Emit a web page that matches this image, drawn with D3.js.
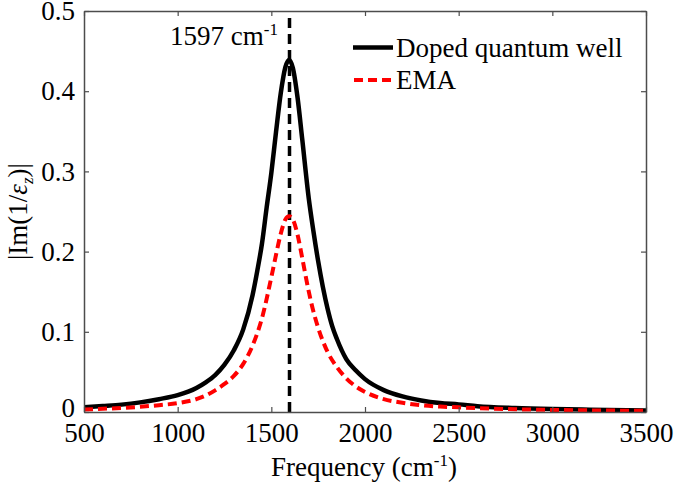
<!DOCTYPE html>
<html>
<head>
<meta charset="utf-8">
<script src="https://cdn.jsdelivr.net/npm/d3@7/dist/d3.min.js"></script>
<style>
  html, body { margin: 0; padding: 0; background: #fff; }
  svg text { font-family: "Liberation Serif", "Tinos", "Times New Roman", "DejaVu Serif", serif; fill: #000; }
</style>
</head>
<body>
<svg id="chart" width="675" height="485"></svg>
<script>
// ---- data ----
const freqBlack = [500, 600, 700, 800, 900, 1000, 1100, 1150, 1200, 1250, 1300, 1350, 1400, 1425, 1450, 1475, 1500, 1525, 1550, 1575, 1595,
                   1615, 1640, 1665, 1700, 1725, 1750, 1775, 1800, 1825, 1850, 1900, 1950, 2000, 2100, 2200, 2300, 2400, 2500, 2600, 2800, 3000, 3200, 3500];
const valBlack  = [0.006, 0.0075, 0.0092, 0.012, 0.016, 0.021, 0.030, 0.037, 0.046, 0.059, 0.077, 0.103, 0.146, 0.176, 0.210, 0.255, 0.298, 0.349, 0.397, 0.430, 0.439,
                   0.429, 0.392, 0.340, 0.266, 0.225, 0.188, 0.156, 0.129, 0.107, 0.091, 0.066, 0.052, 0.041, 0.0273, 0.0194, 0.0144, 0.0112, 0.0095, 0.0072, 0.0050, 0.0037, 0.0029, 0.0020];

const freqRed = [500, 600, 700, 800, 900, 1000, 1100, 1150, 1200, 1250, 1300, 1350, 1400, 1450, 1500, 1525, 1550, 1575, 1595,
                 1615, 1640, 1665, 1700, 1725, 1750, 1800, 1850, 1900, 1950, 2000, 2100, 2200, 2300, 2400, 2500, 2600, 2800, 3000, 3200, 3500];
const valRed  = [0.003, 0.004, 0.005, 0.0065, 0.0085, 0.011, 0.016, 0.0205, 0.027, 0.035, 0.045, 0.060, 0.083, 0.117, 0.168, 0.196, 0.222, 0.240, 0.244,
                 0.240, 0.221, 0.192, 0.150, 0.125, 0.105, 0.075, 0.056, 0.042, 0.032, 0.025, 0.016, 0.0115, 0.0085, 0.0068, 0.0058, 0.0048, 0.0034, 0.0026, 0.0020, 0.0015];

const peakFreq = 1597;
const xTicks = [500, 1000, 1500, 2000, 2500, 3000, 3500];
const yTicks = [0, 0.1, 0.2, 0.3, 0.4, 0.5];
const seriesNames = ["Doped quantum well", "EMA"];

// ---- layout ----
const FONT = '"Liberation Serif", "Tinos", "Times New Roman", "DejaVu Serif", serif';
const svg = d3.select("#chart");
const L = 84, R = 646, T = 11, B = 412;
const x = d3.scaleLinear().domain([500, 3500]).range([L, R]);
const y = d3.scaleLinear().domain([0, 0.5]).range([B, T]);
const axisColor = "#4d4d4d";
const fontSize = 27;
const supSize = 17;

svg.append("defs").append("clipPath").attr("id", "clip")
  .append("rect").attr("x", L).attr("y", T).attr("width", R - L).attr("height", B - T);

const plot = svg.append("g").attr("clip-path", "url(#clip)");

const line = d3.line().x(d => x(d[0])).y(d => y(d[1])).curve(d3.curveMonotoneX);

const blackData = freqBlack.map((f, i) => [f, valBlack[i]]);
const redData = freqRed.map((f, i) => [f, valRed[i]]);

plot.append("line")
  .attr("x1", x(peakFreq)).attr("x2", x(peakFreq))
  .attr("y1", y(0)).attr("y2", y(0.5))
  .attr("stroke", "#000").attr("stroke-width", 3.5)
  .attr("stroke-dasharray", "10,6");

plot.append("path").datum(blackData)
  .attr("d", line).attr("fill", "none")
  .attr("stroke", "#000").attr("stroke-width", 4.5).attr("stroke-linejoin", "round");

plot.append("path").datum(redData)
  .attr("d", line).attr("fill", "none")
  .attr("stroke", "#ff0000").attr("stroke-width", 4)
  .attr("stroke-dasharray", "9,5");

const tickLen = 5;
const axBottom = d3.axisBottom(x).tickValues(xTicks).tickSizeInner(-tickLen).tickSizeOuter(0).tickPadding(11).tickFormat(d3.format("d"));
const axTop = d3.axisTop(x).tickValues(xTicks).tickSizeInner(-tickLen).tickSizeOuter(0).tickFormat("");
const axLeft = d3.axisLeft(y).tickValues(yTicks).tickSizeInner(-tickLen).tickSizeOuter(0).tickPadding(9).tickFormat(d => d === 0 ? "0" : d3.format(".1f")(d));
const axRight = d3.axisRight(y).tickValues(yTicks).tickSizeInner(-tickLen).tickSizeOuter(0).tickFormat("");

function styleAxis(g) {
  g.attr("font-family", FONT).attr("font-size", fontSize);
  g.select(".domain").attr("stroke", axisColor).attr("stroke-width", 1.5);
  g.selectAll(".tick line").attr("stroke", axisColor).attr("stroke-width", 1.2);
  g.selectAll(".tick text").attr("font-size", fontSize).attr("fill", "#000");
}

svg.append("g").attr("transform", `translate(0,${B})`).call(axBottom).call(styleAxis);
svg.append("g").attr("transform", `translate(0,${T})`).call(axTop).call(styleAxis);
const gLeft = svg.append("g").attr("transform", `translate(${L},0)`).call(axLeft).call(styleAxis);
svg.append("g").attr("transform", `translate(${R},0)`).call(axRight).call(styleAxis);
gLeft.selectAll(".tick text").filter(d => d === 0).attr("dy", "0.15em");

// annotation "1597 cm-1"
const ann = svg.append("text").attr("x", 170).attr("y", 45).attr("font-size", fontSize);
ann.append("tspan").text(peakFreq + " cm");
ann.append("tspan").attr("font-size", supSize).attr("dy", -10).text("-1");

// legend
const legend = svg.append("g");
const legY = [47.5, 80];
legend.append("line").attr("x1", 353).attr("x2", 393).attr("y1", legY[0]).attr("y2", legY[0])
  .attr("stroke", "#000").attr("stroke-width", 4.5);
legend.append("line").attr("x1", 354).attr("x2", 393).attr("y1", legY[1]).attr("y2", legY[1])
  .attr("stroke", "#ff0000").attr("stroke-width", 4).attr("stroke-dasharray", "9,5");
legend.selectAll("text.leg").data(seriesNames).enter().append("text")
  .attr("class", "leg")
  .attr("x", 396).attr("y", (d, i) => legY[i] + 9)
  .attr("font-size", fontSize).text(d => d);

// x-axis title
const xt = svg.append("text").attr("x", 364).attr("y", 476).attr("text-anchor", "middle").attr("font-size", fontSize);
xt.append("tspan").text("Frequency (cm");
xt.append("tspan").attr("font-size", supSize).attr("dy", -10).text("-1");
xt.append("tspan").attr("dy", 10).text(")");

// y-axis title
const yt = svg.append("text").attr("transform", `translate(27,${(T + B) / 2}) rotate(-90)`)
  .attr("text-anchor", "middle").attr("font-size", fontSize);
yt.append("tspan").text("|Im(1/");
yt.append("tspan").attr("font-style", "italic").text("ε");
yt.append("tspan").attr("font-size", supSize).attr("dy", 6).attr("font-style", "italic").text("z");
yt.append("tspan").attr("dy", -6).text(")|");

svg.selectAll("text").attr("font-family", FONT);
</script>
</body>
</html>
